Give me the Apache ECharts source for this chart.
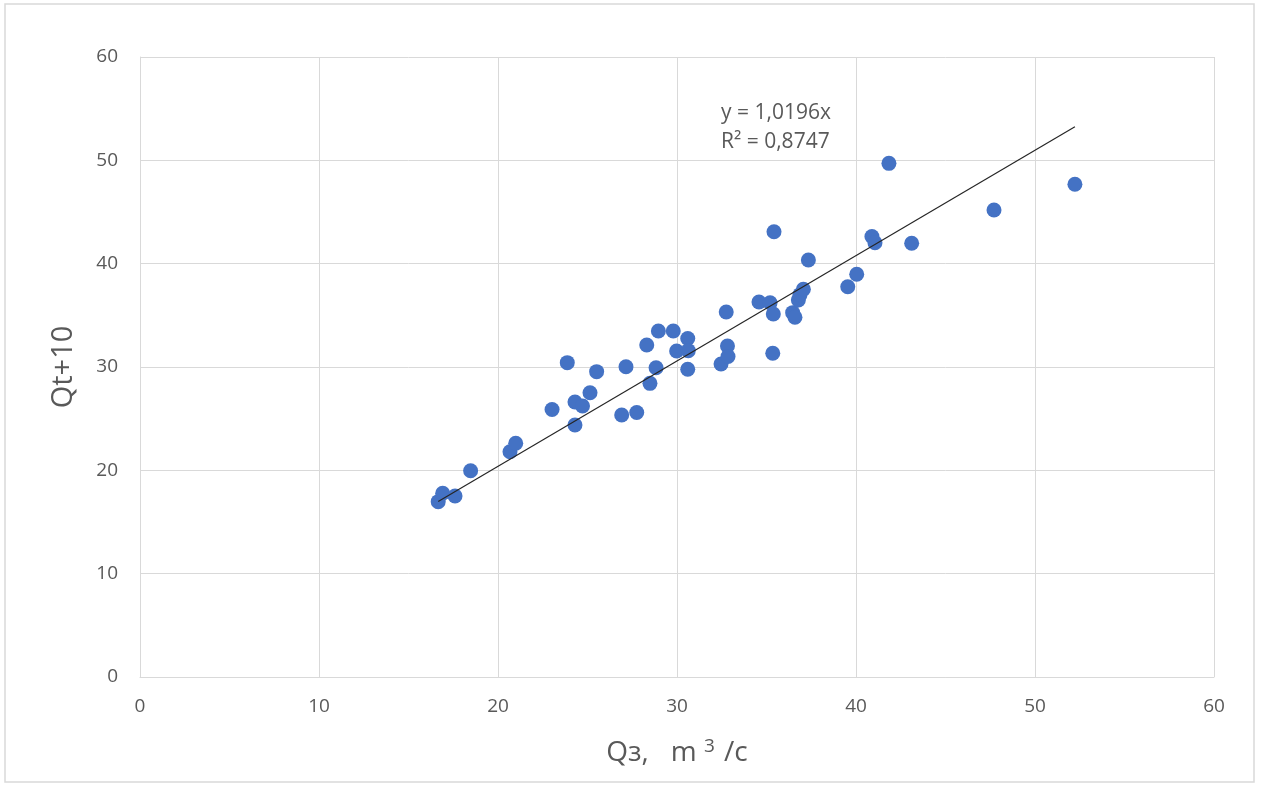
<!DOCTYPE html>
<html><head><meta charset="utf-8">
<script src="https://cdn.jsdelivr.net/npm/echarts@6/dist/echarts.min.js"></script>
<style>html,body{margin:0;padding:0;background:#fff}#c{width:1266px;height:785px}</style>
</head><body><div id="c"></div>
<script>
const qz = [16.66,16.91,17.60,18.47,20.67,20.99,23.02,23.87,24.30,24.72,25.14,24.30,25.51,26.91,27.15,27.75,28.31,28.49,28.83,28.96,29.79,29.98,30.60,30.63,30.60,32.46,32.75,32.82,32.85,34.58,35.20,35.42,35.38,35.35,36.46,36.59,36.78,36.87,37.06,37.34,39.54,40.04,40.89,41.06,41.84,43.11,47.71,52.23];
const qt10 = [16.97,17.78,17.52,19.96,21.80,22.62,25.89,30.42,26.61,26.23,27.51,24.39,29.55,25.36,30.03,25.60,32.13,28.42,29.93,33.48,33.48,31.55,32.76,31.58,29.78,30.29,35.32,32.03,31.02,36.29,36.22,43.09,35.13,31.33,35.26,34.81,36.48,37.00,37.52,40.36,37.77,38.97,42.63,42.03,49.71,41.97,45.19,47.68];
const slope = 1.0196;
const r2Text = '0,8747';
const slopeText = '1,0196';
const xTicks = [0,10,20,30,40,50,60];
const yTicks = [0,10,20,30,40,50,60];

const pts = qz.map((x,i)=>[x,qt10[i]]);
const xmin = Math.min(...qz), xmax = Math.max(...qz);
const trend = [[xmin, slope*xmin],[xmax, slope*xmax]];
const font = '"Open Sans", "Noto Sans", sans-serif';
const grey = '#595959';
const chart = echarts.init(document.getElementById('c'));
chart.setOption({
  animation:false,
  backgroundColor:'#fff',
  grid:{left:140,right:52,top:57,bottom:108},
  xAxis:{type:'value',min:xTicks[0],max:xTicks[xTicks.length-1],interval:10,
    name:'{n|Qз,   m }{s|3}{n| /c}',nameLocation:'middle',nameGap:60,
    nameTextStyle:{rich:{n:{fontSize:28,color:grey,fontFamily:font},s:{fontSize:19,color:grey,fontFamily:font,verticalAlign:'top',padding:[0,2,14,0]}}},
    axisLine:{show:true,lineStyle:{color:'#d9d9d9'}},axisTick:{show:false},
    axisLabel:{color:grey,fontSize:19,fontFamily:font,margin:20},
    splitLine:{show:true,lineStyle:{color:'#d9d9d9'}}},
  yAxis:{type:'value',min:yTicks[0],max:yTicks[yTicks.length-1],interval:10,
    name:'Qt+10',nameLocation:'middle',nameGap:62,
    nameTextStyle:{fontSize:29,color:grey,fontFamily:font},
    axisLine:{show:true,lineStyle:{color:'#d9d9d9'}},axisTick:{show:false},
    axisLabel:{color:grey,fontSize:19,fontFamily:font,margin:22},
    splitLine:{show:true,lineStyle:{color:'#d9d9d9'}}},
  graphic:[
    {type:'rect',shape:{x:5,y:4,width:1249,height:778},style:{fill:'none',stroke:'#d9d9d9',lineWidth:1.5},silent:true},
    {type:'text',left:721,top:99,style:{text:'y = '+slopeText+'x\nR² = '+r2Text,fill:grey,fontSize:21,fontFamily:font,lineHeight:29}}
  ],
  series:[
    {type:'scatter',data:pts,symbolSize:15,itemStyle:{color:'#4472C4',opacity:1},z:3},
    {type:'line',data:trend,symbol:'none',lineStyle:{color:'#262626',width:1.2},z:4}
  ]
});
</script></body></html>
